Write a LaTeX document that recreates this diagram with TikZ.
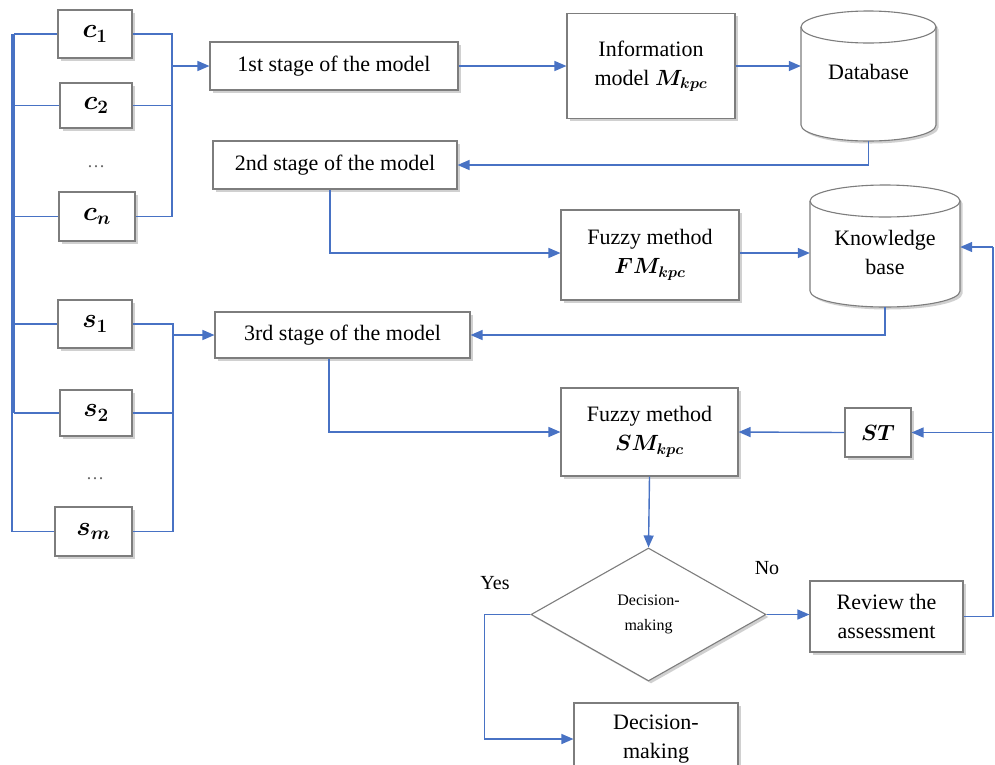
\RequirePackage{fix-cm}
\documentclass[tikz,border=0pt]{standalone}
\usepackage{fontspec}
\setmainfont{Liberation Serif}
\usetikzlibrary{arrows.meta,shapes.geometric,shadows}
\definecolor{lineblue}{RGB}{72,114,196}
\definecolor{boxgray}{RGB}{125,125,125}
\tikzset{
  box/.style={draw=boxgray, fill=white, line width=1.1pt, align=center, inner sep=0pt,
    drop shadow={shadow xshift=2.5pt, shadow yshift=-2.5pt, opacity=0.3, fill=black!60},
    font=\fontsize{22}{29}\selectfont\boldmath},
  smallbox/.style={box, font=\fontsize{27}{30}\selectfont\boldmath},
  cylbox/.style={inner sep=0pt, align=center, font=\fontsize{22}{29}\selectfont},
  cylsty/.style={draw=boxgray, fill=white, line width=1.1pt},
  conn/.style={draw=lineblue, line width=1.4pt},
  arr/.style={conn, -{Triangle[length=12pt,width=10pt]}},
  lbl/.style={inner sep=0pt, font=\fontsize{20}{24}\selectfont},
  dotsty/.style={inner sep=0pt, text=black!60, font=\fontsize{18}{20}\selectfont}
}
\begin{document}
\begin{tikzpicture}[x=1pt,y=-1pt]
\useasboundingbox (0,0) rectangle (995,764);
\clip (0,0) rectangle (995,764);
\fill[white] (0,0) rectangle (995,764);

% left column boxes
\node[smallbox, minimum width=74pt, minimum height=48pt] (c1) at (95,34) {$c_1$};
\node[smallbox, minimum width=72pt, minimum height=45pt] (c2) at (96,105.5) {$c_2$};
\node[dotsty] (d1) at (96,167) {\dots};
\node[smallbox, minimum width=76pt, minimum height=49pt] (cn) at (97,216.5) {$c_n$};
\node[smallbox, minimum width=74pt, minimum height=48pt] (s1) at (95,324) {$s_1$};
\node[smallbox, minimum width=72pt, minimum height=46pt] (s2) at (96,413) {$s_2$};
\node[dotsty] (d2) at (95,479) {\dots};
\node[smallbox, minimum width=77pt, minimum height=49pt] (sm) at (93.5,531.5) {$s_m$};

% stages
\node[box, minimum width=248pt, minimum height=48pt] (st1) at (334,66) {1st stage of the model};
\node[box, minimum width=244pt, minimum height=48pt] (st2) at (335,165) {2nd stage of the model};
\node[box, minimum width=255pt, minimum height=46pt] (st3) at (342.5,335) {3rd stage of the model};

\node[box, minimum width=168pt, minimum height=105pt] (info) at (651,66) {Information\\model $M_{kpc}$};
\node[box, minimum width=178pt, minimum height=90pt] (fm) at (650,255) {Fuzzy method\\$FM_{kpc}$};
\node[box, minimum width=177pt, minimum height=88pt] (smk) at (649.5,432) {Fuzzy method\\$SM_{kpc}$};
\node[box, minimum width=66pt, minimum height=49pt] (st) at (878,432.5) {$ST$};

% cylinders
\path[cylsty, drop shadow={shadow xshift=2.5pt, shadow yshift=-2.5pt, opacity=0.3, fill=black!60}]
  (801,27) -- (801,125) arc[start angle=180,end angle=360,x radius=67.5pt,y radius=16pt]
  -- (936,27) arc[start angle=0,end angle=180,x radius=67.5pt,y radius=16pt] -- cycle;
\draw[cylsty, fill=none] (801,27) arc[start angle=180,end angle=360,x radius=67.5pt,y radius=16pt];
\node[cylbox, minimum width=135pt, minimum height=130pt] (db) at (868.5,76) {};
\node[cylbox] (dbt) at (868.5,72) {Database};

\path[cylsty, drop shadow={shadow xshift=2.5pt, shadow yshift=-2.5pt, opacity=0.3, fill=black!60}]
  (810,201) -- (810,291) arc[start angle=180,end angle=360,x radius=75pt,y radius=16pt]
  -- (960,201) arc[start angle=0,end angle=180,x radius=75pt,y radius=16pt] -- cycle;
\draw[cylsty, fill=none] (810,201) arc[start angle=180,end angle=360,x radius=75pt,y radius=16pt];
\node[cylbox, minimum width=150pt, minimum height=122pt] (kb) at (885,246) {};
\node[cylbox] (kbt) at (885,252) {Knowledge\\base};

% decision
\node[draw=boxgray, fill=white, line width=1.1pt, diamond, aspect=1.77, inner sep=0pt,
  minimum width=235pt, minimum height=133pt, align=center,
  font=\fontsize{16}{25}\selectfont,
  drop shadow={shadow xshift=2.5pt, shadow yshift=-2.5pt, opacity=0.3, fill=black!60}]
  (dec) at (648.5,614.5) {Decision-\\making};
\node[box, minimum width=153pt, minimum height=71pt] (rev) at (886.5,616.5) {Review the\\assessment};
\node[box, minimum width=164pt, minimum height=72pt] (dm) at (656,739) {Decision-\\making};
\node[lbl] (yes) at (495,583) {Yes};
\node[lbl] (no) at (767,568) {No};

% coordinates
\coordinate (cj) at (172,66);
\coordinate (sj) at (173,335);
\coordinate (lbx) at (14,0);
\coordinate (lbx2) at (12,0);
\coordinate (rbus) at (993,247);

% left bus
\draw[conn, line width=2.6pt] (c1.west -| lbx) -- (s2.west -| lbx);
\draw[conn] (c1.west -| lbx2) -- (sm.west -| lbx2);
\draw[conn] (c1.west -| lbx) -- (c1.west);
\draw[conn] (c2.west -| lbx) -- (c2.west);
\draw[conn] (cn.west -| lbx) -- (cn.west);
\draw[conn] (s1.west -| lbx) -- (s1.west);
\draw[conn] (s2.west -| lbx) -- (s2.west);
\draw[conn] (sm.west -| lbx2) -- (sm.west);

% c bracket
\draw[conn] (c1.east) -- (c1.east -| cj) -- (cn.east -| cj) -- (cn.east);
\draw[conn] (c2.east) -- (c2.east -| cj);
\draw[arr] (cj) -- (st1.west);
% s bracket
\draw[conn] (s1.east) -- (s1.east -| sj) -- (sm.east -| sj) -- (sm.east);
\draw[conn] (s2.east) -- (s2.east -| sj);
\draw[arr] (sj) -- (st3.west);

% main flow
\draw[arr] (st1.east) -- (info.west);
\draw[arr] (info.east) -- (info.east -| db.west);
\draw[arr] (db.south) |- (st2.east);
\draw[arr] ([xshift=-5pt]st2.south) |- ([yshift=2pt]fm.west);
\draw[arr] ([yshift=2pt]fm.east) -- ([yshift=2pt]fm.east -| kb.west);
\draw[arr] (kb.south) |- (st3.east);
\draw[arr] ([xshift=-13.5pt]st3.south) |- (smk.west);
\draw[arr] (st.west) -- (smk.east);
\draw[arr] (smk.south) -- (dec.north);
\draw[arr] (dec.east) -- (dec.east -| rev.west);
\draw[conn] (rev.east) -| (rbus);
\draw[arr] (rbus) -- (kb.east |- rbus);
\draw[arr] (st.east -| rbus) -- (st.east);
\draw[arr] (dec.west) -- ++(-46,0) |- (dm.west);
\end{tikzpicture}
\end{document}
